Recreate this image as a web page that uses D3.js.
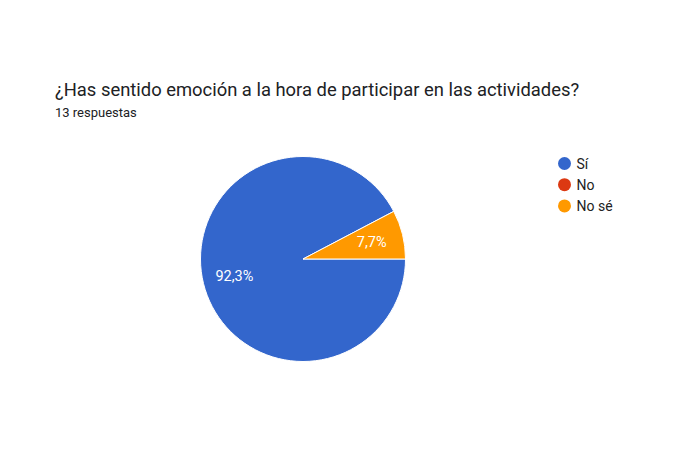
<!DOCTYPE html>
<html>
<head>
<meta charset="utf-8">
<script src="https://cdn.jsdelivr.net/npm/d3@7"></script>
<style>
  body { margin: 0; background: #fff; }
  text { font-family: Roboto, Arial, sans-serif; }
</style>
</head>
<body>
<div id="chart"></div>
<script>
var categories = ["Sí", "No", "No sé"];
var counts = [12, 0, 1];
var colors = ["#3366cc", "#dc3912", "#ff9900"];
var title = "¿Has sentido emoción a la hora de participar en las actividades?";
var subtitle = "13 respuestas";

var width = 696, height = 450;
var cx = 303, cy = 259, radius = 102.5;

var svg = d3.select("#chart")
    .append("svg")
    .attr("width", width)
    .attr("height", height);

svg.append("text")
    .attr("x", 55)
    .attr("y", 96)
    .style("font-size", "18.4px")
    .style("fill", "#202124")
    .text(title);

svg.append("text")
    .attr("x", 55)
    .attr("y", 117)
    .style("font-size", "13px")
    .style("fill", "#202124")
    .text(subtitle);

var data = categories.map(function(c, i) {
    return { name: c, value: counts[i], color: colors[i] };
});
var total = d3.sum(counts);

var pie = d3.pie()
    .sort(null)
    .value(function(d) { return d.value; })
    .startAngle(Math.PI / 2)
    .endAngle(Math.PI / 2 + 2 * Math.PI);

var arc = d3.arc().innerRadius(0).outerRadius(radius);
var labelArc = d3.arc().innerRadius(radius * 0.69).outerRadius(radius * 0.69);

var g = svg.append("g")
    .attr("transform", "translate(" + cx + "," + cy + ")");

var arcs = pie(data).filter(function(d) { return d.data.value > 0; });

g.selectAll("path")
    .data(arcs)
    .enter().append("path")
    .attr("d", arc)
    .style("fill", function(d) { return d.data.color; })
    .style("stroke", "#fff")
    .style("stroke-width", 1);

g.selectAll(".lbl")
    .data(arcs)
    .enter().append("text")
    .classed("lbl", true)
    .attr("transform", function(d) { return "translate(" + labelArc.centroid(d) + ")"; })
    .attr("dy", "0.35em")
    .style("text-anchor", "middle")
    .style("font-size", "14.5px")
    .style("fill", "#fff")
    .text(function(d) {
        return (d.data.value / total * 100).toFixed(1).replace(".", ",") + "%";
    });

var legend = svg.append("g")
    .attr("transform", "translate(564.5,163.5)");

var items = legend.selectAll(".item")
    .data(data)
    .enter().append("g")
    .classed("item", true)
    .attr("transform", function(d, i) { return "translate(0," + (i * 21.2) + ")"; });

items.append("circle")
    .attr("r", 6.5)
    .style("fill", function(d) { return d.color; });

items.append("text")
    .attr("x", 12)
    .attr("dy", "0.36em")
    .style("font-size", "14px")
    .style("fill", "#222")
    .text(function(d) { return d.name; });
</script>
</body>
</html>
